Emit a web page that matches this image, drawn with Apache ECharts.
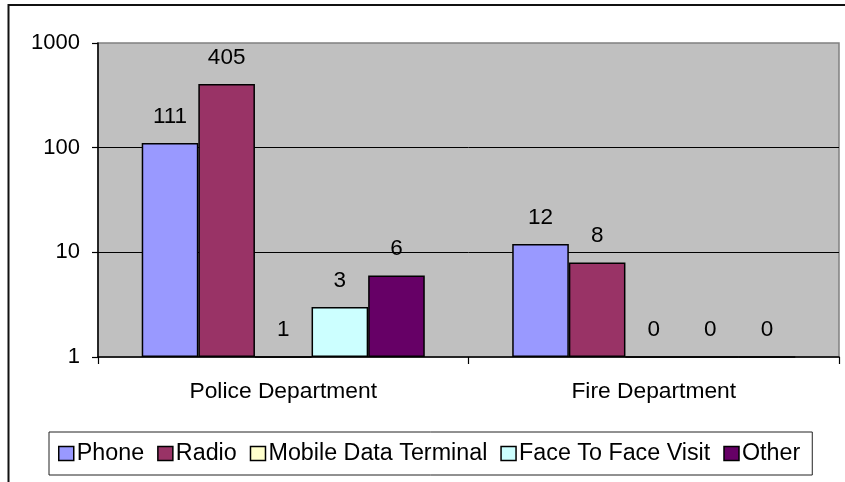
<!DOCTYPE html>
<html>
<head>
<meta charset="utf-8" />
<script src="https://cdn.jsdelivr.net/npm/echarts@6/dist/echarts.min.js"></script>
<style>
	html, body { margin: 0; padding: 0; background: #ffffff; }
	#main { width: 845px; height: 482px; }
</style>
</head>
<body>
<div id="main"></div>
<script type="text/javascript">
	// data
	var categories = ['Police Department', 'Fire Department'];
	var seriesNames = ['Phone', 'Radio', 'Mobile Data Terminal', 'Face To Face Visit', 'Other'];
	var phone = [111, 12];
	var radio = [405, 8];
	var mobileData = [1, 0];
	var faceToFace = [3, 0];
	var other = [6, 0];
	var yTicks = [1, 10, 100, 1000];

	var colors = ['#9999FF', '#993366', '#FFFFCC', '#CCFFFF', '#660066'];
	var font = "'Liberation Sans', Arial, sans-serif";

	// a log axis cannot show 0, so a zero sits on the baseline (1) and keeps its own label
	function toItems(values) {
		return values.map(function (v) {
			return { value: v > 0 ? v : 1, raw: v };
		});
	}

	var allValues = [phone, radio, mobileData, faceToFace, other];
	var series = [];
	for (var i = 0; i < seriesNames.length; i++) {
		series.push({
			name: seriesNames[i],
			type: 'bar',
			data: toItems(allValues[i]),
			barGap: '0%',
			barCategoryGap: '23.6%',
			itemStyle: { color: colors[i], borderColor: '#000', borderWidth: 1.5 },
			label: {
				show: true,
				position: 'top',
				distance: 15,
				color: '#000',
				fontFamily: font,
				fontSize: 22.5,
				formatter: function (p) { return String(p.data.raw); }
			}
		});
	}

	var myChart = echarts.init(document.getElementById('main'));
	var option = {
		animation: false,
		backgroundColor: '#ffffff',
		textStyle: { fontFamily: font },
		graphic: [{
			type: 'rect',
			shape: { x: 8.5, y: 5, width: 1000, height: 1000 },
			style: { fill: 'none', stroke: '#111', lineWidth: 2 },
			silent: true
		}],
		grid: {
			left: 98, right: 6, top: 43, bottom: 125,
			show: true,
			backgroundColor: '#C0C0C0',
			borderColor: '#808080',
			borderWidth: 1.5
		},
		legend: {
			data: seriesNames,
			icon: 'rect',
			left: 49,
			top: 432,
			itemWidth: 15,
			itemHeight: 14,
			itemGap: 13,
			padding: [10, 12, 10, 9],
			borderColor: '#222',
			borderWidth: 1,
			backgroundColor: '#fff',
			itemStyle: { borderColor: '#000', borderWidth: 1.5 },
			textStyle: { color: '#000', fontFamily: font, fontSize: 23.3, padding: [0, 0, 0, -2] }
		},
		xAxis: {
			type: 'category',
			data: categories,
			axisLine: { lineStyle: { color: '#000', width: 1.5 } },
			axisTick: { show: true, length: 7, lineStyle: { color: '#000', width: 1.2 } },
			axisLabel: { color: '#000', fontFamily: font, fontSize: 22.8, margin: 23 }
		},
		yAxis: {
			type: 'log',
			logBase: 10,
			min: yTicks[0],
			max: yTicks[yTicks.length - 1],
			axisLine: { show: true, lineStyle: { color: '#000', width: 1.5 } },
			axisTick: { show: true, length: 6, lineStyle: { color: '#000', width: 1.2 } },
			axisLabel: {
				color: '#000', fontFamily: font, fontSize: 22, margin: 18,
				formatter: function (v) { return yTicks.indexOf(Math.round(v)) >= 0 ? String(Math.round(v)) : ''; }
			},
			splitLine: { show: true, showMinLine: false, showMaxLine: false, lineStyle: { color: '#000', width: 1 } }
		},
		series: series
	};
	myChart.setOption(option);
</script>
</body>
</html>
